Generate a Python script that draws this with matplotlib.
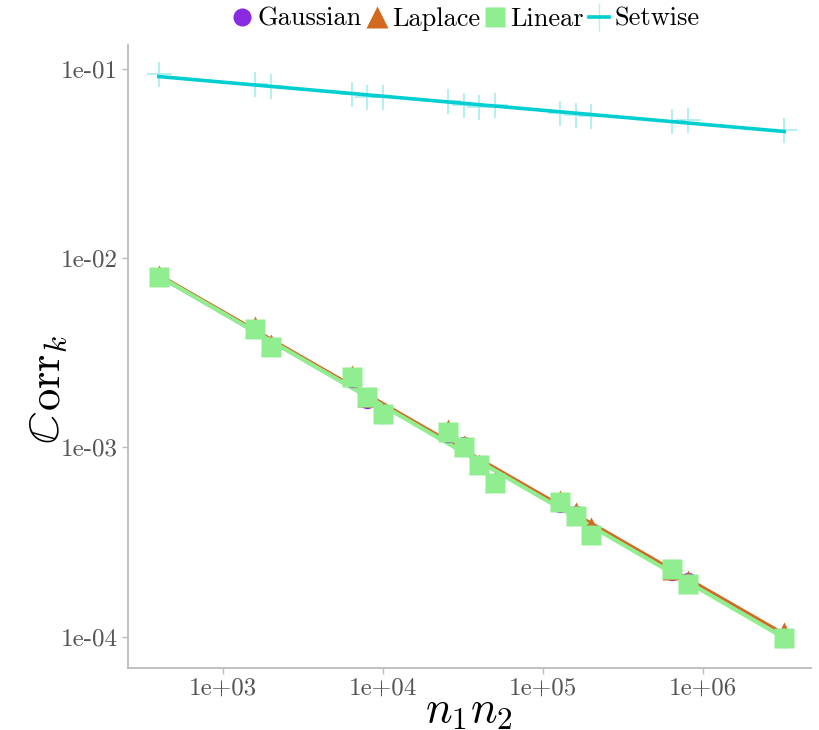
import numpy as np
import matplotlib
matplotlib.use("Agg")
import matplotlib.pyplot as plt
from matplotlib.lines import Line2D
from matplotlib.ticker import FixedLocator, FixedFormatter, NullLocator

# ---------------- data ----------------
n1n2 = [400, 1600, 2000, 6400, 8000, 10000, 25600, 32000, 40000, 50000,
        128000, 160000, 200000, 640000, 800000, 3200000]
gaussian = [7.96e-3, 4.23e-3, 3.37e-3, 2.30e-3, 1.784e-3, 1.487e-3, 1.173e-3,
            1.032e-3, 8.09e-4, 6.58e-4, 5.04e-4, 4.46e-4, 3.58e-4, 2.202e-4,
            1.974e-4, 9.75e-5]
laplace = [8.16e-3, 4.39e-3, 3.50e-3, 2.42e-3, 1.85e-3, 1.532e-3, 1.254e-3,
           1.032e-3, 8.19e-4, 6.58e-4, 5.29e-4, 4.57e-4, 3.81e-4, 2.256e-4,
           2.0e-4, 1.061e-4]
linear = [7.96e-3, 4.23e-3, 3.37e-3, 2.34e-3, 1.85e-3, 1.492e-3, 1.204e-3,
          9.99e-4, 8.09e-4, 6.48e-4, 5.11e-4, 4.35e-4, 3.45e-4, 2.275e-4,
          1.904e-4, 9.87e-5]
setwise = [0.0941, 0.0833, 0.0806, 0.0738, 0.0707, 0.0707, 0.0678, 0.0646,
           0.0630, 0.0640, 0.0587, 0.0568, 0.0566, 0.0527, 0.0533, 0.0477]
series_names = ["Gaussian", "Laplace", "Linear", "Setwise"]
xticks = [1e3, 1e4, 1e5, 1e6]
xticklabels = ["1e+03", "1e+04", "1e+05", "1e+06"]
yticks = [1e-4, 1e-3, 1e-2, 1e-1]
yticklabels = ["1e-04", "1e-03", "1e-02", "1e-01"]

# ---------------- style ----------------
plt.rcParams["font.family"] = ["cmr10", "DejaVu Serif"]
plt.rcParams["mathtext.fontset"] = "cm"
plt.rcParams["axes.unicode_minus"] = False
plt.rcParams["axes.formatter.use_mathtext"] = True

c_gauss = "#8A2BE2"
c_lap = "#D2691E"
c_lin = "#90EE90"
c_set = "#00CED1"
gray = "#555555"
axgray = "#BBBBBB"

W, H = 8.2, 7.3
fig = plt.figure(figsize=(W, H), dpi=100)
ax = fig.add_axes([0.1555, 0.085, 0.833, 0.853])

x = np.array(n1n2, dtype=float)
lx = np.log10(x)


def fit_line(y):
    p = np.polyfit(lx, np.log10(np.array(y)), 1)
    xs = np.array([lx.min(), lx.max()])
    return 10 ** xs, 10 ** np.polyval(p, xs)


# regression lines
fx, fy = fit_line(gaussian)
ax.plot(fx, fy, color=c_gauss, lw=2.0, zorder=2)
fx, fy = fit_line(laplace)
ax.plot(fx, fy, color=c_lap, lw=2.0, zorder=2.1)
fx, fy = fit_line(linear)
ax.plot(fx, fy, color=c_lin, lw=3.0, zorder=2.2)
fx, fy = fit_line(setwise)
ax.plot(fx, fy, color=c_set, lw=2.6, zorder=2.3)

# points
ax.plot(x, gaussian, "o", color=c_gauss, ms=12.5, mec="none", zorder=3)
ax.plot(x, laplace, "^", color=c_lap, ms=14, mec="none", zorder=3.1)
ax.plot(x, linear, "s", color=c_lin, ms=14.5, mec="none", zorder=3.2)
ax.plot(x, setwise, "+", color=c_set, ms=18, mew=1.2, alpha=0.35, zorder=3.3)

ax.set_xscale("log")
ax.set_yscale("log")
ax.set_xlim(10 ** 2.407, 10 ** 6.67)
ax.set_ylim(10 ** -4.166, 10 ** -0.876)

ax.xaxis.set_major_locator(FixedLocator(xticks))
ax.xaxis.set_major_formatter(FixedFormatter(xticklabels))
ax.yaxis.set_major_locator(FixedLocator(yticks))
ax.yaxis.set_major_formatter(FixedFormatter(yticklabels))
ax.xaxis.set_minor_locator(NullLocator())
ax.yaxis.set_minor_locator(NullLocator())

for s in ["top", "right"]:
    ax.spines[s].set_visible(False)
for s in ["left", "bottom"]:
    ax.spines[s].set_color(axgray)
    ax.spines[s].set_linewidth(1.3)
ax.tick_params(axis="both", colors=axgray, length=4, width=1.0,
               labelsize=18, labelcolor=gray, pad=3)

ax.set_xlabel(r"$n_1 n_2$", fontsize=32, labelpad=-6)

# y label: double-struck C (STIX math) followed by "orr_k" (Computer Modern)
y_base_x = 0.072   # baseline position (figure fraction)
y_start = 0.392    # bottom end of the label (figure fraction)
t1 = fig.text(y_base_x, y_start, r"$\mathbb{C}$", fontsize=32, rotation=90,
              rotation_mode="anchor", ha="left", va="baseline",
              math_fontfamily="stix")
fig.canvas.draw()
renderer = fig.canvas.get_renderer()
bb = t1.get_window_extent(renderer)
t2 = fig.text(y_base_x, y_start + bb.height / (H * fig.dpi), r"$\mathrm{orr}_k$",
              fontsize=32, rotation=90, rotation_mode="anchor", ha="left",
              va="baseline")

handles = [
    Line2D([], [], ls="none", marker="o", color=c_gauss, ms=13, mec="none"),
    Line2D([], [], ls="none", marker="^", color=c_lap, ms=16, mec="none"),
    Line2D([], [], ls="none", marker="s", color=c_lin, ms=14, mec="none"),
    Line2D([], [], color=c_set, lw=2.6, marker="+", ms=20, mew=1.0,
           markeredgecolor=(0, 0.81, 0.82, 0.3)),
]
fig.legend(handles, series_names, loc="center", bbox_to_anchor=(0.568, 0.974),
           ncol=4, frameon=False, fontsize=19, handlelength=0.75,
           handletextpad=0.2, columnspacing=0.2, borderaxespad=0)

fig.savefig("out.png", dpi=100, facecolor="white")
